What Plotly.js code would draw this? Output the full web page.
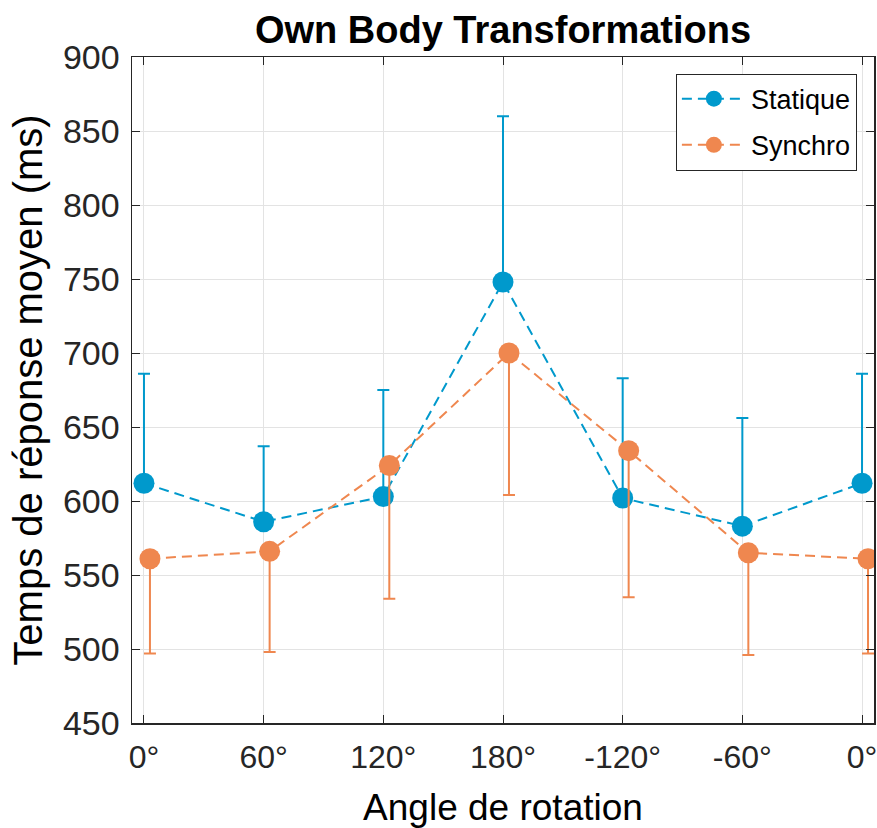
<!DOCTYPE html>
<html>
<head>
<meta charset="utf-8">
<script src="https://cdn.plot.ly/plotly-3.0.1.min.js"></script>
<style>
  html, body { margin: 0; padding: 0; background: #ffffff; }
  #chart { width: 877px; height: 828px; }
</style>
</head>
<body>
<div id="chart"></div>
<script>
// Data
const angleLabels = ['0°', '60°', '120°', '180°', '-120°', '-60°', '0°'];
const statique     = [612, 586, 603, 748, 602, 583, 612];
const statiqueErr  = [74, 51, 72, 112, 81, 73, 74];   // upper error only
const synchro      = [561, 566, 624, 700, 634, 565, 561];
const synchroErr   = [64, 68, 90, 96, 99, 69, 64];    // lower error only
const yTicks = [450, 500, 550, 600, 650, 700, 750, 800, 850, 900];

const positions = angleLabels.map((_, i) => i + 1);
const offsetSynchro = 0.05;
const zeros = angleLabels.map(() => 0);

const blue = '#0099CC';
const orange = '#EF874F';
const font = 'Liberation Sans, Arial, Helvetica, sans-serif';
const axisColor = '#262626';

const traces = [
  {
    name: 'Statique',
    legendgroup: 'a',
    x: positions,
    y: statique,
    type: 'scatter',
    mode: 'lines+markers',
    line: { color: blue, width: 2, dash: '10px,6px' },
    marker: { color: blue, size: 21 },
    error_y: { type: 'data', symmetric: false, array: statiqueErr, arrayminus: zeros,
               color: blue, thickness: 2, width: 6 }
  },
  {
    name: 'Synchro',
    legendgroup: 'b',
    x: positions.map(p => p + offsetSynchro),
    y: synchro,
    type: 'scatter',
    mode: 'lines+markers',
    line: { color: orange, width: 2, dash: '10px,6px' },
    marker: { color: orange, size: 21 },
    error_y: { type: 'data', symmetric: false, array: zeros, arrayminus: synchroErr,
               color: orange, thickness: 2, width: 6 }
  }
];

const layout = {
  width: 877,
  height: 828,
  margin: { l: 132, r: 3, t: 57, b: 105 },
  paper_bgcolor: '#ffffff',
  plot_bgcolor: '#ffffff',
  font: { family: font, color: axisColor },
  title: {
    text: '<b>Own Body Transformations</b>',
    font: { family: font, size: 38, color: '#000000' },
    x: 0.5, xanchor: 'center', xref: 'paper',
    y: 0.964, yanchor: 'middle'
  },
  xaxis: {
    range: [0.9, 7.1],
    tickvals: positions,
    ticktext: angleLabels,
    tickfont: { family: font, size: 32, color: axisColor },
    ticks: 'inside', ticklen: 8, tickcolor: axisColor, tickwidth: 1,
    ticklabelstandoff: 5,
    ticklabeloverflow: 'allow',
    showline: true, linecolor: axisColor, linewidth: 1.5, mirror: 'ticks',
    showgrid: true, gridcolor: '#e3e3e3', gridwidth: 1,
    zeroline: false,
    title: { text: 'Angle de rotation', font: { family: font, size: 37, color: '#000000' }, standoff: 20 }
  },
  yaxis: {
    range: [450, 900],
    tickvals: yTicks,
    tickfont: { family: font, size: 34, color: axisColor },
    ticks: 'inside', ticklen: 8, tickcolor: axisColor, tickwidth: 1,
    ticklabelstandoff: 4,
    showline: true, linecolor: axisColor, linewidth: 1.5, mirror: 'ticks',
    showgrid: true, gridcolor: '#e3e3e3', gridwidth: 1,
    zeroline: false,
    title: { text: 'Temps de réponse moyen (ms)', font: { family: font, size: 40, color: '#000000' }, standoff: 8 }
  },
  legend: {
    x: 0.733, y: 0.975, xanchor: 'left', yanchor: 'top',
    bgcolor: '#ffffff', bordercolor: axisColor, borderwidth: 1,
    font: { family: font, size: 27, color: '#000000' },
    traceorder: 'grouped',
    tracegroupgap: 8,
    itemwidth: 64
  },
  showlegend: true
};

Plotly.newPlot('chart', traces, layout, { displayModeBar: false, staticPlot: true });
</script>
</body>
</html>
